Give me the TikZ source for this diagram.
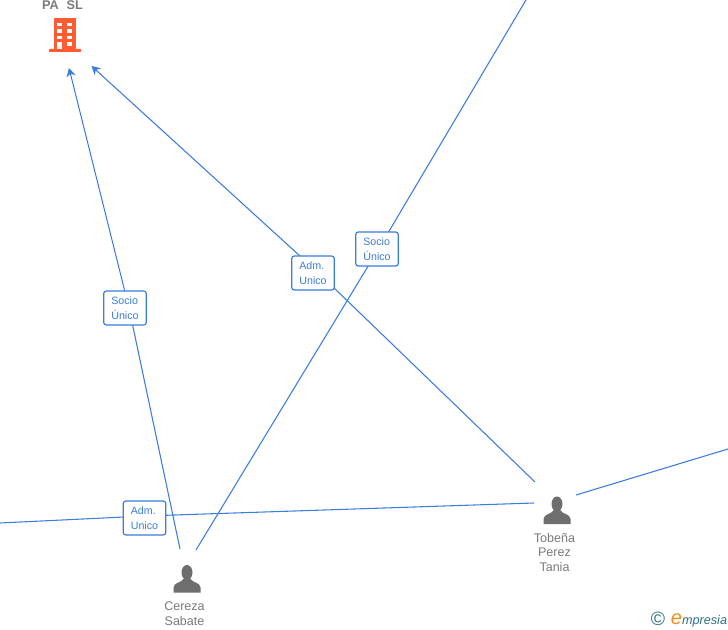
\documentclass[tikz,border=0pt]{standalone}
\usepackage{fontspec}
\setmainfont{Liberation Sans}
\usetikzlibrary{arrows.meta,positioning,backgrounds}
\definecolor{linkblue}{HTML}{3B7DDD}
\definecolor{namegray}{HTML}{7A7A7A}
\definecolor{icongray}{HTML}{6E6E6E}
\definecolor{bldorange}{HTML}{FF5C33}
\definecolor{logoteal}{HTML}{2F6F86}
\definecolor{logoorange}{HTML}{F28C1E}

\begin{document}
\begin{tikzpicture}[
    x=0.75pt, y=-0.75pt,
    role/.style={draw=linkblue, rounded corners=2pt, line width=0.9pt, fill=white, minimum width=32pt, minimum height=25.5pt, inner sep=0pt, align=left, font=\fontsize{8}{11.2}\selectfont, text=linkblue},
    person/.style={align=center, font=\fontsize{9.4}{11}\selectfont, text=namegray},
    link/.style={draw=linkblue, line width=0.8pt},
    arr/.style={link, -{Stealth[length=6.5pt,width=7pt]}},
    window/.style={fill=white, draw=none},
    personicon/.pic={
        \fill[icongray] (0,-6) ellipse (5.5 and 7.5);
        \fill[icongray] (-13.5,14) -- (-13.5,9) .. controls (-13.5,4) and (-5,4) .. (-3,0) -- (3,0) .. controls (5,4) and (13.5,4) .. (13.5,9) -- (13.5,14) -- cycle;
    }
]
\path[use as bounding box, clip] (0,0) rectangle (728,630);

% company
\fill[bldorange] (54,18) rectangle (76,49);
\fill[bldorange, rounded corners=0.5pt] (49,49) rectangle (81,52);
\foreach \yy/\hh in {23/3,29.5/3.5,36/3.5} {
    \fill[window] (57,\yy) rectangle +(5,\hh);
    \fill[window] (67,\yy) rectangle +(5,\hh);
}
\fill[window] (57,42) rectangle (62,49);
\fill[window] (67,42) rectangle (72,46);
\node[font=\bfseries\fontsize{9.5}{11}\selectfont, text=namegray, anchor=base, inner sep=0pt] (pasl) at (62.5,9.2) {PA\hspace{6pt}SL};

% people
\pic at (187,578.5) {personicon};
\pic at (557,510) {personicon};
\node[person] (cereza) at (184.5,613.5) {Cereza\\Sabate};
\node[person] (tobena) at (554.5,552.5) {Tobeña\\Perez\\Tania};

% roles
\node[role] (socioa) at (125,308) {Socio\\Único};
\node[role] (admb) at (313,273) {Adm.\\Unico};
\node[role] (socioc) at (377,249) {Socio\\Único};
\node[role] (admd) at (144.5,518) {Adm.\\Unico};

% free ends
\coordinate (cerezaleft) at (180,549);
\coordinate (cerezaright) at (196,550);
\coordinate (tobenatop) at (535,482);
\coordinate (tobenaleft) at (534,503);
\coordinate (tobenaright) at (576,495);
\coordinate (paleft) at (69,68);
\coordinate (paright) at (91.5,66);
\coordinate (outtop) at (526,0);
\coordinate (outleft) at (0,523);
\coordinate (outright) at (728,449);
\coordinate (benda) at (129,308);
\coordinate (bendb) at (317.5,272);
\coordinate (bendc) at (378.5,249);
\coordinate (bendd) at (144.5,516);

\begin{scope}[on background layer]
\draw[arr] (cerezaleft) -- (benda) -- (paleft);
\draw[arr] (tobenatop) -- (bendb) -- (paright);
\draw[link] (cerezaright) -- (bendc) -- (outtop);
\draw[link] (tobenaleft) -- (bendd) -- (outleft);
\draw[link] (tobenaright) -- (outright);
\end{scope}

% logo
\node[font=\fontsize{14.5}{14.5}\selectfont, text=logoteal, inner sep=0pt] (copyr) at (658,619) {\textcopyright};
\node[font=\itshape\fontsize{9.5}{11}\selectfont, text=logoteal, inner sep=0pt] (logo) at (699,620) {\textcolor{logoorange}{\fontsize{15}{15}\selectfont e}mpresia};
\end{tikzpicture}
\end{document}
